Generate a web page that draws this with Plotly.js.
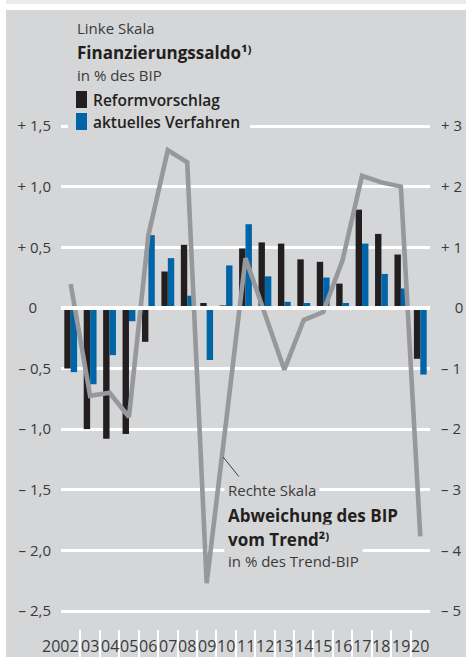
<!DOCTYPE html>
<html>
<head>
<meta charset="utf-8">
<script src="https://cdn.plot.ly/plotly-3.0.1.min.js"></script>
<style>html,body{margin:0;padding:0;background:#fff;}#chart{width:466px;height:657px;}</style>
</head>
<body>
<div id="chart"></div>
<script>
// ---- data ----
const years = [2002,2003,2004,2005,2006,2007,2008,2009,2010,2011,2012,2013,2014,2015,2016,2017,2018,2019,2020];
const yearLabels = ["2002","03","04","05","06","07","08","09","10","11","12","13","14","15","16","17","18","19","20"];
const reformvorschlag = [-0.50,-1.00,-1.08,-1.04,-0.28,0.30,0.52,0.04,0.02,0.49,0.54,0.53,0.40,0.38,0.20,0.81,0.61,0.44,-0.42];
const aktuellesVerfahren = [-0.53,-0.63,-0.39,-0.11,0.60,0.41,0.10,-0.43,0.35,0.69,0.26,0.05,0.04,0.25,0.04,0.53,0.28,0.16,-0.55];
const abweichungBIP = [0.39,-1.45,-1.40,-1.80,1.20,2.60,2.40,-4.54,-1.88,0.82,-0.10,-1.02,-0.20,-0.07,0.79,2.18,2.07,2.00,-3.77];
const seriesNames = ["Reformvorschlag","aktuelles Verfahren","Abweichung des BIP vom Trend"];
const leftTickVals = [-2.5,-2,-1.5,-1,-0.5,0,0.5,1,1.5];
const leftTickText = ["\u2013 2,5","\u2013 2,0","\u2013 1,5","\u2013 1,0","\u2013 0,5","0\u2007\u2005\u200A","+ 0,5","+ 1,0","+ 1,5"];
const rightTickVals = [-5,-4,-3,-2,-1,0,1,2,3];
const rightTickText = ["\u2013 5","\u2013 4","\u2013 3","\u2013 2","\u2013 1","\u2007\u2005\u200A0","+ 1","+ 2","+ 3"];
const gridYears = [2004.5,2009.5,2014.5,2019.5];
const boundaries = years.map(y => y + 0.5);

// ---- styling ----
const BG = "rgb(213,214,216)";
const BLACK = "#231f20";
const BLUE = "#0065a7";
const GREY = "rgb(151,152,155)";
const TXT = "#3a3a3a";
const FONT = "Open Sans";

const W = 466, H = 657, ML = 61, MR = 36, MT = 22, MB = 0;
const PW = W - ML - MR, PH = H - MT - MB;
const xp = px => (px - ML) / PW;
const yp = py => (H - MB - py) / PH;

const yRange = [-2.8794, 2.3577];
const y2Range = [yRange[0] * 2, yRange[1] * 2];

const traces = [
  {type:"bar", x:years, y:reformvorschlag, name:seriesNames[0], marker:{color:BLACK}, xaxis:"x", yaxis:"y", hoverinfo:"skip"},
  {type:"bar", x:years, y:aktuellesVerfahren, name:seriesNames[1], marker:{color:BLUE}, xaxis:"x", yaxis:"y", hoverinfo:"skip"},
  {type:"scatter", mode:"lines", x:years, y:abweichungBIP, name:seriesNames[2], line:{color:GREY, width:4.6}, xaxis:"x", yaxis:"y2", hoverinfo:"skip"}
];

function txt(text, left, cy, size, extra) {
  return Object.assign({
    text: text, xref:"paper", yref:"paper", x: xp(left - 4), y: yp(cy),
    xanchor:"left", yanchor:"middle", showarrow:false, align:"left",
    bgcolor: BG, borderpad: 3, borderwidth: 1, bordercolor: "rgba(0,0,0,0)",
    font:{family:FONT, size:size, color:TXT}
  }, extra || {});
}

const annotations = [
  txt("Linke Skala", 77, 28, 15),
  txt("<b>Finanzierungssaldo\u00B9\u207E</b>", 77, 53, 17, {font:{family:FONT,size:17,color:BLACK}}),
  txt("in % des BIP", 77, 75, 15),
  txt(seriesNames[0], 93, 99.5, 15.5, {bgcolor:"rgba(0,0,0,0)", font:{family:FONT,size:15.5,color:BLACK,weight:600}}),
  txt(seriesNames[1], 93, 121.5, 15.5, {bgcolor:"rgba(0,0,0,0)", font:{family:FONT,size:15.5,color:BLACK,weight:600}}),
  txt("Rechte Skala", 228, 490, 15),
  txt("<b>Abweichung des BIP</b>", 228, 515.5, 17, {font:{family:FONT,size:17,color:BLACK}}),
  txt("<b>vom Trend\u00B2\u207E</b>", 228, 539, 17, {font:{family:FONT,size:17,color:BLACK}}),
  txt("in % des Trend-BIP", 228, 561, 15)
];
years.forEach((yr, i) => {
  annotations.push({
    text: yearLabels[i], xref:"x", yref:"paper", x: i === 0 ? yr + 0.5 : yr, y: 0,
    xanchor: i === 0 ? "right" : "center", yanchor:"bottom", showarrow:false,
    borderpad:0, borderwidth:0, xshift: i === 0 ? -1 : 0,
    font:{family:FONT, size:16, color:TXT}
  });
});

const shapes = [
  {type:"rect", xref:"paper", yref:"paper", x0:xp(6), x1:xp(466), y0:yp(657), y1:yp(10), fillcolor:BG, line:{width:0}, layer:"below"},
  {type:"rect", xref:"paper", yref:"paper", x0:xp(6), x1:xp(466), y0:yp(4), y1:yp(0), fillcolor:"#ebebed", line:{width:0}, layer:"below"},
  {type:"rect", xref:"paper", yref:"paper", x0:xp(68), x1:xp(250), y0:yp(134), y1:yp(84), fillcolor:BG, line:{width:0}, layer:"above"},
  {type:"rect", xref:"paper", yref:"paper", x0:xp(76), x1:xp(87), y0:yp(108), y1:yp(91), fillcolor:BLACK, line:{width:0}, layer:"above"},
  {type:"rect", xref:"paper", yref:"paper", x0:xp(76), x1:xp(87), y0:yp(130), y1:yp(113), fillcolor:BLUE, line:{width:0}, layer:"above"},
  // pointer from "Rechte Skala" to the line
  {type:"line", xref:"x", yref:"y2", xsizemode:"pixel", ysizemode:"pixel", xanchor:2009.85, yanchor:-2.46,
   x0:0, y0:0, x1:20, y1:-25, line:{color:"#2b2b2b", width:0.9}, layer:"above"}
];

const layout = {
  width: W, height: H,
  margin: {l:ML, r:MR, t:MT, b:MB, pad:0},
  paper_bgcolor: "#ffffff",
  plot_bgcolor: BG,
  font: {family: FONT, size: 15, color: TXT},
  showlegend: false,
  barmode: "group", bargap: 0.34, bargroupgap: 0,
  xaxis: {
    range:[2001.5, 2020.5], tickmode:"array", tickvals:boundaries,
    ticks:"inside", ticklen:27, tickwidth:2, tickcolor:"#ffffff",
    showticklabels:false, showgrid:false, zeroline:false, showline:false, fixedrange:true
  },
  xaxis2: {
    range:[2001.5, 2020.5], overlaying:"x", anchor:"y", tickmode:"array", tickvals:gridYears,
    ticks:"", showticklabels:false, showgrid:true, gridcolor:"#ffffff", gridwidth:3,
    zeroline:false, showline:false, fixedrange:true
  },
  yaxis: {
    range:yRange, tickmode:"array", tickvals:leftTickVals, ticktext:leftTickText,
    ticks:"", showgrid:true, gridcolor:"#ffffff", gridwidth:3,
    zeroline:true, zerolinecolor:"#ffffff", zerolinewidth:4, zerolinelayer:"above traces",
    showline:false, ticklabelstandoff:9, tickfont:{family:FONT,size:15,color:TXT}, fixedrange:true
  },
  yaxis2: {
    range:y2Range, overlaying:"y", side:"right", tickmode:"array", tickvals:rightTickVals, ticktext:rightTickText,
    ticks:"", showgrid:false, zeroline:false, showline:false, ticklabelstandoff:10,
    tickfont:{family:FONT,size:15,color:TXT}, fixedrange:true
  },
  annotations: annotations,
  shapes: shapes
};

Plotly.newPlot("chart", traces, layout, {displayModeBar:false, staticPlot:true});
</script>
</body>
</html>
